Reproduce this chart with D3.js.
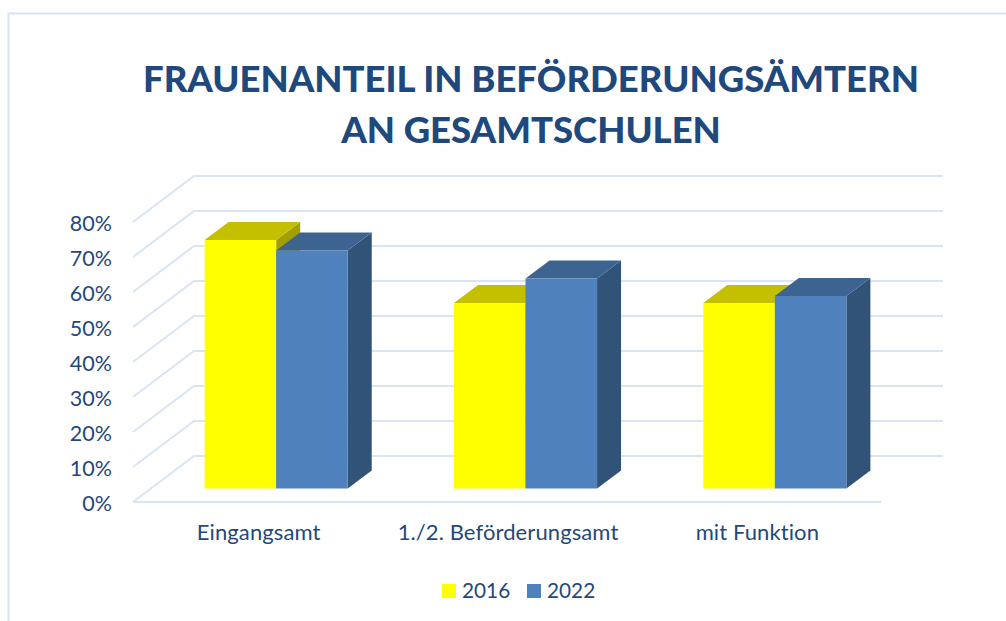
<!DOCTYPE html>
<html>
<head>
<meta charset="utf-8">
<script src="https://cdnjs.cloudflare.com/ajax/libs/d3/7.8.5/d3.min.js"></script>
<style>
  html, body { margin: 0; padding: 0; background: #fff; overflow: hidden; }
  text { font-family: Lato, "Open Sans", sans-serif; fill: #1f497d; }
</style>
</head>
<body>
<script>
const categories = ['Eingangsamt', '1./2. Beförderungsamt', 'mit Funktion'];
const seriesNames = ['2016', '2022'];
const values2016 = [71, 53, 53];
const values2022 = [68, 60, 55];
const yTicks = [0, 10, 20, 30, 40, 50, 60, 70, 80];
const titleLines = ['FRAUENANTEIL IN BEFÖRDERUNGSÄMTERN', 'AN GESAMTSCHULEN'];

const width = 1006, height = 621;
const floorY = 502;              // front edge of the floor
const wallDx = 61, wallDy = -46; // front edge -> back wall
const barDx = 24, barDy = -18;   // depth of a bar
const barInsetX = 18.5, barInsetY = -13.5; // bars stand a bit back from the front edge

const colors = {
  '2016': {front: '#ffff00', top: '#c4c000', side: '#a39f00'},
  '2022': {front: '#4f81bd', top: '#3d6491', side: '#325378'}
};
const gridColor = '#d9e5f3';

const svg = d3.select('body').append('svg')
  .attr('width', width)
  .attr('height', height);

// page frame
svg.append('path')
  .attr('d', 'M8.5,621V13.5H1006')
  .attr('fill', 'none')
  .attr('stroke', '#d5e3f3')
  .attr('stroke-width', 2);

svg.append('g').selectAll('text')
  .data(titleLines)
  .join('text')
  .attr('x', 531)
  .attr('y', (d, i) => 92 + i * 51)
  .attr('text-anchor', 'middle')
  .attr('font-size', 36.5)
  .attr('font-weight', 900)
  .text(d => d);

const y = d3.scaleLinear().domain([0, 80]).range([floorY, floorY - 280]);
const x0 = d3.scaleBand().domain(categories).range([133, 881])
  .paddingInner(0.426).paddingOuter(0.213);
const x1 = d3.scaleBand().domain(seriesNames).range([0, x0.bandwidth()]);

// side wall and back wall grid
const grid = svg.append('g')
  .attr('fill', 'none')
  .attr('stroke', gridColor)
  .attr('stroke-width', 2);
grid.selectAll('path')
  .data(yTicks)
  .join('path')
  .attr('d', d => `M133,${y(d)}L${133 + wallDx},${y(d) + wallDy}H943`);
grid.append('path')
  .attr('d', `M133,${floorY}H881`);

// bars
const rows = categories.flatMap((c, i) => [
  {cat: c, s: '2016', v: values2016[i]},
  {cat: c, s: '2022', v: values2022[i]}
]);

const bars = svg.append('g')
  .attr('transform', `translate(${barInsetX},${barInsetY})`)
  .selectAll('g')
  .data(rows)
  .join('g');

bars.append('polygon')
  .attr('fill', d => colors[d.s].side)
  .attr('points', d => {
    const r = x0(d.cat) + x1(d.s) + x1.bandwidth();
    return [[r, y(d.v)], [r + barDx, y(d.v) + barDy], [r + barDx, y(0) + barDy], [r, y(0)]].join(' ');
  });
bars.append('polygon')
  .attr('fill', d => colors[d.s].top)
  .attr('points', d => {
    const l = x0(d.cat) + x1(d.s), r = l + x1.bandwidth();
    return [[l, y(d.v)], [r, y(d.v)], [r + barDx, y(d.v) + barDy], [l + barDx, y(d.v) + barDy]].join(' ');
  });
bars.append('rect')
  .attr('fill', d => colors[d.s].front)
  .attr('x', d => x0(d.cat) + x1(d.s))
  .attr('y', d => y(d.v))
  .attr('width', x1.bandwidth())
  .attr('height', d => y(0) - y(d.v));

// axes
const yAxis = svg.append('g')
  .attr('transform', 'translate(112,2)')
  .call(d3.axisLeft(y).tickValues(yTicks).tickFormat(d => d + '%').tickSize(0).tickPadding(0));
yAxis.select('.domain').remove();
yAxis.selectAll('text')
  .attr('font-size', 21.5)
  .attr('font-family', null);

const xAxis = svg.append('g')
  .attr('transform', 'translate(1,524)')
  .call(d3.axisBottom(x0).tickSize(0).tickPadding(0));
xAxis.select('.domain').remove();
xAxis.selectAll('text')
  .attr('font-size', 22)
  .attr('letter-spacing', 0.1)
  .attr('font-family', null);

// legend
const legend = svg.append('g').selectAll('g')
  .data(seriesNames)
  .join('g')
  .attr('transform', (d, i) => `translate(${442 + i * 85},584)`);
legend.append('rect')
  .attr('width', 14)
  .attr('height', 14)
  .attr('fill', d => colors[d].front);
legend.append('text')
  .attr('x', 20)
  .attr('y', 14)
  .attr('font-size', 20.8)
  .text(d => d);
</script>
</body>
</html>
